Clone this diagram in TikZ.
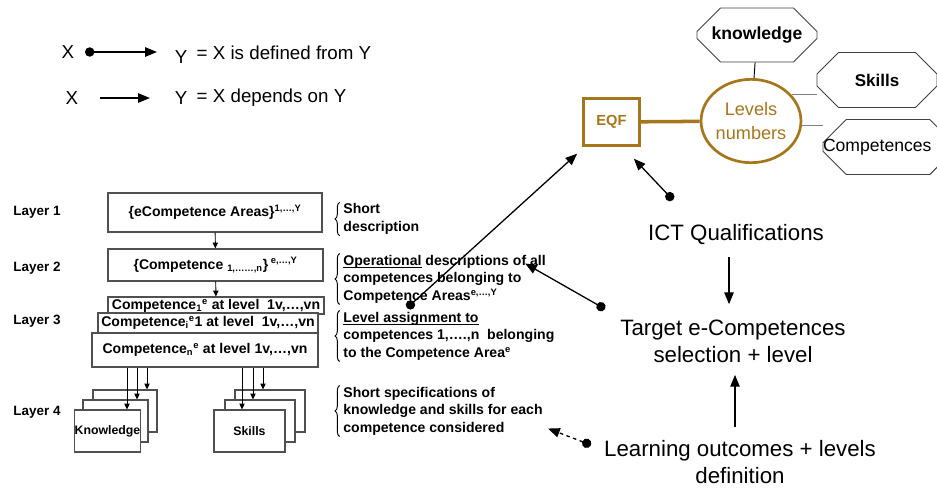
\documentclass[tikz,border=0pt]{standalone}
\usepackage{fontspec}
\setmainfont{Liberation Sans}
\usetikzlibrary{positioning, arrows.meta, shapes.geometric, shapes.misc, decorations.pathreplacing}
\definecolor{eqfbrown}{RGB}{165,118,28}
\definecolor{boxgray}{RGB}{80,80,80}
\newcommand{\ulin}[1]{\setbox0\hbox{#1}\rlap{\rule[-2.2pt]{\wd0}{0.7pt}}\box0}

\begin{document}
\begin{tikzpicture}[
  x=0.03cm, y=-0.03cm,
  legtext/.style={font=\fontsize{16}{19}\selectfont, inner sep=1pt},
  layerlabel/.style={font=\bfseries\fontsize{11.5}{14}\selectfont},
  layerbox/.style={rectangle, draw=boxgray, line width=0.9pt, fill=white, inner sep=0pt, font=\bfseries\fontsize{12}{14}\selectfont},
  stackbox/.style={rectangle, draw=boxgray, line width=0.9pt, fill=white, inner sep=0pt, minimum height=1.26cm, font=\bfseries\fontsize{10.5}{12}\selectfont},
  desctext/.style={anchor=west, align=left, inner sep=1pt, font=\bfseries\fontsize{12}{15}\selectfont},
  sidebrace/.style={decorate, decoration={brace, amplitude=4pt}, line width=0.8pt},
  bigtext/.style={align=center, inner sep=2pt, font=\fontsize{19}{23}\selectfont},
  octbox/.style={chamfered rectangle, chamfered rectangle xsep=9pt, chamfered rectangle ysep=13pt, draw=black!75, line width=0.8pt, fill=white, inner sep=0pt},
  defarrow/.style={{Circle[length=8pt]}-{Triangle[length=10pt,width=8pt]}, line width=1.1pt},
  deparrow/.style={-{Triangle[length=10pt,width=8pt]}, line width=1.1pt},
  smallarrow/.style={-{Triangle[length=5pt,width=4.5pt]}, line width=0.8pt},
  linkline/.style={draw=gray, line width=1pt}
]
  \useasboundingbox (0,0) rectangle (937,490);
  \clip (0,0) rectangle (937,490);

  % Legenda
  \node[legtext] (lx1) at (68,52) {X};
  \node[legtext] (ly1) at (181,57) {Y};
  \node[legtext, right=2mm of ly1.east, anchor=west, yshift=1.2mm] (lt1) {= X is defined from Y};
  \draw[defarrow, shorten <=8pt, shorten >=14pt] (lx1.east) -- (lx1.east -| ly1.west);

  \node[legtext] (lx2) at (72,98) {X};
  \node[legtext] (ly2) at (181,98) {Y};
  \node[legtext, right=2mm of ly2.east, anchor=west] (lt2) {= X depends on Y};
  \draw[deparrow, shorten <=17pt, shorten >=20pt] (lx2.east) -- (ly2.west);

  % Vrstvy
  \node[layerlabel] (lay1) at (37,212) {Layer 1};
  \node[layerlabel] (lay2) at (37,268) {Layer 2};
  \node[layerlabel] (lay3) at (37,321) {Layer 3};
  \node[layerlabel] (lay4) at (37,412) {Layer 4};

  \node[layerbox, minimum width=6.42cm, minimum height=1.17cm] (l1box) at (215,212.5)
    {\{eCompetence Areas\}\textsuperscript{1,\dots,Y}};
  \node[layerbox, minimum width=6.45cm, minimum height=0.96cm] (l2box) at (215.5,265)
    {\{Competence \textsubscript{1,\dots\dots,n}\}\textsuperscript{ e,\dots,Y}};

  \node[layerbox, minimum width=6.48cm, minimum height=0.51cm] (l3a) at (216,305.5)
    {Competence\textsubscript{1}\textsuperscript{e} at level\ \ 1v,\dots,vn};
  \node[layerbox, minimum width=6.6cm, minimum height=0.6cm] (l3b) at (208,323)
    {Competence\textsubscript{i}\textsuperscript{e}1 at level\ \ 1v,\dots,vn};
  \node[layerbox, minimum width=6.78cm, minimum height=1.02cm] (l3c) at (205,350)
    {Competence\textsubscript{n}\textsuperscript{e} at level 1v,\dots,vn};

  \draw[smallarrow] (l1box) -- (l2box);
  \draw[smallarrow] (l2box) -- (l3a);

  % Layer 4: stohy karet
  \node[stackbox, minimum width=1.92cm] (kn3) at (125,411) {};
  \node[stackbox, minimum width=1.95cm] (kn2) at (115.5,421) {};
  \node[stackbox, minimum width=1.95cm] (kn1) at (107.5,431) {Knowledge};
  \node[stackbox, minimum width=2.1cm] (sk3) at (270,411) {};
  \node[stackbox, minimum width=2.1cm] (sk2) at (260,421) {};
  \node[stackbox, minimum width=2.13cm] (sk1) at (249.5,431) {Skills};

  \coordinate (kt1) at (127,0); \coordinate (kt2) at (137,0); \coordinate (kt3) at (147,0);
  \coordinate (st1) at (242,0); \coordinate (st2) at (253,0); \coordinate (st3) at (263,0);
  \foreach \t/\b in {kt1/kn1, kt2/kn2, kt3/kn3, st1/sk1, st2/sk2, st3/sk3}
    \draw[smallarrow] (l3c.south -| \t) -- (\b.north -| \t);

  % Popisy se svorkami
  \node[desctext] (d1) at (342,219) {Short\\description};
  \node[desctext] (d2) at (342,279) {\ulin{Operational}\ descriptions of all\\competences belonging to\\Competence Areas\textsuperscript{e,\dots,Y}};
  \node[desctext] (d3) at (342,336) {\ulin{Level assignment to}\\competences 1,\dots.,n\ \ belonging\\to the Competence Area\textsuperscript{e}};
  \node[desctext] (d4) at (342,411) {Short specifications of\\knowledge and skills for each\\competence considered};
  \foreach \d in {d1, d2, d3, d4}
    \draw[sidebrace] ([xshift=-2pt]\d.south west) -- ([xshift=-2pt]\d.north west);

  % EQF a urovne
  \node[rectangle, draw=eqfbrown, line width=2.3pt, minimum width=1.68cm, minimum height=1.4cm,
        text=eqfbrown, font=\bfseries\fontsize{12.5}{15}\selectfont] (eqf) at (611.5,122) {EQF};
  \node[ellipse, draw=eqfbrown, line width=2.3pt, minimum width=2.9cm, minimum height=2.5cm, inner sep=0pt,
        text=eqfbrown, align=center, font=\fontsize{15.5}{20}\selectfont] (lvl) at (751,121) {Levels\\numbers};
  \draw[draw=eqfbrown, line width=3pt] (eqf) -- (lvl);

  \node[octbox, minimum width=3.6cm, minimum height=1.62cm, font=\bfseries\fontsize{15}{18}\selectfont] (knw) at (757,35) {knowledge};
  \node[octbox, minimum width=3.6cm, minimum height=1.65cm, font=\bfseries\fontsize{14.5}{18}\selectfont] (skl) at (877,80) {Skills};
  \node[octbox, minimum width=3.9cm, minimum height=1.65cm, text width=3cm, align=left,
        font=\fontsize{15}{18}\selectfont] (cmp) at (888,147) {\hspace*{-0.45cm}Competences};

  \draw[line width=0.8pt] (knw) -- (lvl);
  \draw[linkline] (lvl.33) -- (lvl.33 -| skl.west);
  \draw[linkline] (lvl.-5) -- (lvl.-5 -| cmp.west);

  % Kvalifikace a cile
  \node[bigtext] (ict) at (736,235) {ICT Qualifications};
  \node[bigtext] (tgt) at (733,341) {Target e-Competences\\selection + level};
  \node[bigtext] (lrn) at (740,462) {Learning outcomes + levels\\definition};

  \coordinate (ictdot) at (673,200);
  \coordinate (tgtdot) at (605,309);
  \coordinate (lrndot) at (591,445);
  \coordinate (l3dot) at (407,308);

  \draw[deparrow, shorten <=8pt, shorten >=11pt] (ict.south -| 729,0) -- (tgt.north -| 729,0);
  \draw[deparrow, shorten <=9pt, shorten >=8.5pt] (lrn.north -| 735,0) -- (tgt.south -| 735,0);
  \draw[defarrow] (ictdot) -- ([shift={(-7,12)}]eqf.south east);
  \draw[defarrow] (l3dot) -- ([shift={(-5,7)}]eqf.south west);
  \draw[defarrow] (tgtdot) -- ([shift={(-22,10)}]d2.north east);
  \draw[defarrow, dashed] (lrndot) -- ([shift={(4,-8)}]d4.south east);

\end{tikzpicture}
\end{document}
